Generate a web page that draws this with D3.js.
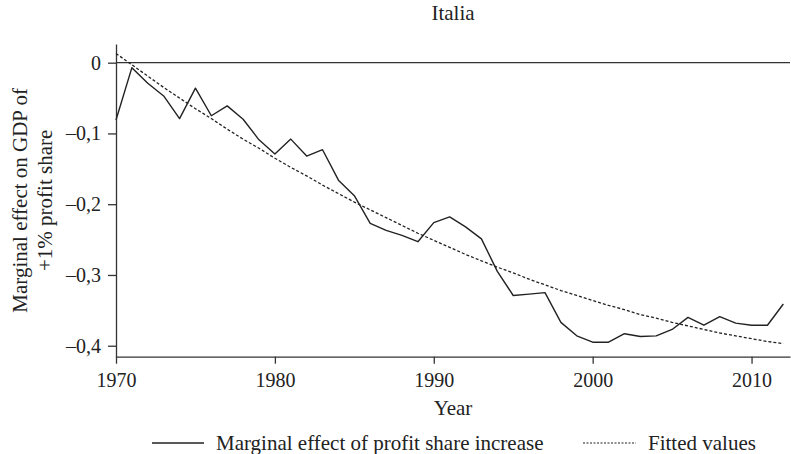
<!DOCTYPE html>
<html>
<head>
<meta charset="utf-8">
<script src="https://cdn.jsdelivr.net/npm/d3@7"></script>
<style>
  body { margin: 0; background: #fff; }
  svg { display: block; font-family: "Liberation Serif", "DejaVu Serif", serif; }
</style>
</head>
<body>
<div id="chart"></div>
<script>
// Italia: marginal effect of +1% profit share on GDP, 1970-2012
const years = d3.range(1970, 2013);
const marginal = [
  -0.081, -0.007, -0.029, -0.047, -0.079, -0.036, -0.075, -0.061, -0.080, -0.109,
  -0.129, -0.108, -0.132, -0.123, -0.166, -0.188, -0.227, -0.237, -0.244, -0.253,
  -0.226, -0.218, -0.232, -0.249, -0.295, -0.329, -0.327, -0.325, -0.367, -0.386,
  -0.395, -0.395, -0.383, -0.387, -0.386, -0.377, -0.360, -0.371, -0.359, -0.368,
  -0.371, -0.371, -0.341
];
const fitted = [
  0.013, -0.003, -0.019, -0.035, -0.050, -0.065, -0.079, -0.094, -0.108, -0.121,
  -0.135, -0.148, -0.160, -0.173, -0.185, -0.197, -0.208, -0.219, -0.230, -0.241,
  -0.251, -0.261, -0.271, -0.280, -0.289, -0.297, -0.306, -0.314, -0.322, -0.329,
  -0.336, -0.343, -0.349, -0.356, -0.361, -0.367, -0.372, -0.377, -0.382, -0.386,
  -0.390, -0.394, -0.397
];
const xTicks = [1970, 1980, 1990, 2000, 2010];
const yTicks = [0, -0.1, -0.2, -0.3, -0.4];

const W = 791, H = 454;
const m = { left: 116, right: 790, top: 44, bottom: 356.7 };
const ink = '#222';
const fs = 21;

const svg = d3.select('#chart').append('svg').attr('width', W).attr('height', H);

const x = d3.scaleLinear().domain([1970, 2012.42]).range([m.left, m.right]);
const y = d3.scaleLinear().domain([-0.4155, 0.0264]).range([m.bottom, m.top]);

// title
svg.append('text').attr('x', (m.left + m.right) / 2).attr('y', 20)
  .attr('text-anchor', 'middle').attr('font-size', fs).attr('fill', ink).text('Italia');

// axes
const fmt = d => d === 0 ? '0' : '\u2013' + d3.format('.1f')(Math.abs(d)).replace('.', ',');
const yAxis = svg.append('g').attr('transform', `translate(${m.left},0)`)
  .call(d3.axisLeft(y).tickValues(yTicks).tickFormat(fmt).tickSize(8).tickSizeOuter(0).tickPadding(7));
const xAxis = svg.append('g').attr('transform', `translate(0,${m.bottom})`)
  .call(d3.axisBottom(x).tickValues(xTicks).tickFormat(d3.format('d')).tickSize(7).tickSizeOuter(0).tickPadding(9));

[yAxis, xAxis].forEach(g => {
  g.selectAll('path, line').attr('stroke', '#333').attr('stroke-width', 1.3);
  g.selectAll('text').attr('font-size', 20).attr('fill', ink)
    .attr('font-family', '"Liberation Serif", "DejaVu Serif", serif');
});

// zero reference line
svg.append('line').attr('x1', m.left).attr('x2', m.right).attr('y1', y(0)).attr('y2', y(0))
  .attr('stroke', '#333').attr('stroke-width', 1.3);

// axis titles
svg.append('text').attr('x', (m.left + m.right) / 2).attr('y', 415)
  .attr('text-anchor', 'middle').attr('font-size', fs).attr('fill', ink).text('Year');

const yl = svg.append('text').attr('transform', `translate(27,${(m.top + m.bottom) / 2}) rotate(-90)`)
  .attr('text-anchor', 'middle').attr('font-size', fs).attr('fill', ink);
yl.append('tspan').attr('x', 0).attr('dy', 0).text('Marginal effect on GDP of');
yl.append('tspan').attr('x', 0).attr('dy', 25).text('+1% profit share');

// series
const line = d3.line().x((d, i) => x(years[i])).y(d => y(d));
svg.append('path').datum(fitted).attr('d', line).attr('fill', 'none')
  .attr('stroke', ink).attr('stroke-width', 1.3).attr('stroke-dasharray', '3,2');
svg.append('path').datum(marginal).attr('d', line).attr('fill', 'none')
  .attr('stroke', ink).attr('stroke-width', 1.4).attr('stroke-linejoin', 'round');

// legend
const lgY = 443;
const lg = svg.append('g');
lg.append('line').attr('x1', 152).attr('x2', 204).attr('y1', lgY).attr('y2', lgY)
  .attr('stroke', ink).attr('stroke-width', 1.3);
lg.append('text').attr('x', 216).attr('y', lgY + 7).attr('font-size', fs).attr('fill', ink)
  .text('Marginal effect of profit share increase');
lg.append('line').attr('x1', 583).attr('x2', 636).attr('y1', lgY).attr('y2', lgY)
  .attr('stroke', ink).attr('stroke-width', 1.2).attr('stroke-dasharray', '2,1.5');
lg.append('text').attr('x', 648).attr('y', lgY + 7).attr('font-size', fs).attr('fill', ink)
  .text('Fitted values');
</script>
</body>
</html>
